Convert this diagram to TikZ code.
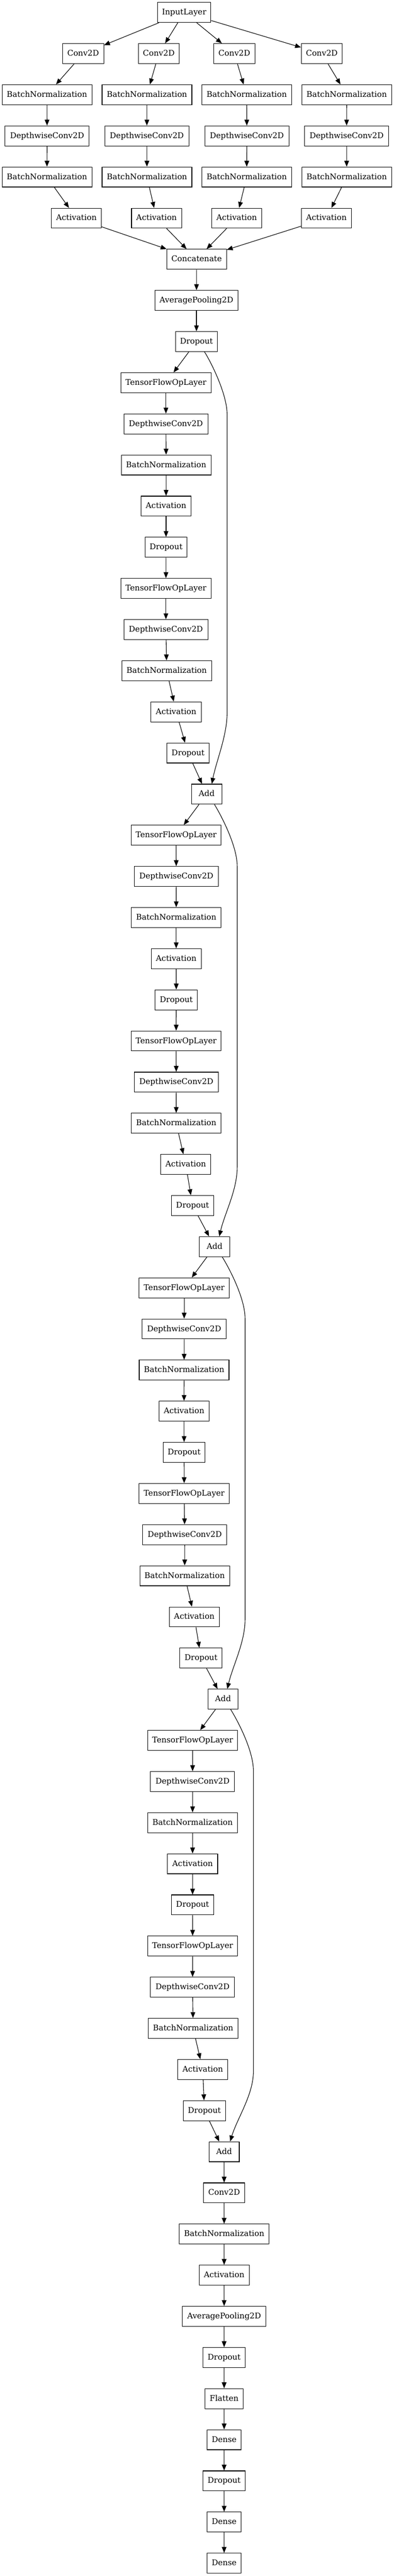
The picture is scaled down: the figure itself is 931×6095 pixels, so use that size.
\documentclass[tikz,border=0pt]{standalone}
\usepackage{fontspec}
\setmainfont{DejaVu Serif}
\usetikzlibrary{arrows.meta,calc}
\newcommand\rnk[1]{29.5+97.34*#1}
\begin{document}
\begin{tikzpicture}[x=0.75pt,y=-0.75pt,
  lay/.style={draw,line width=1pt,inner sep=0pt,minimum height=35.5pt,text height=11pt,text depth=2.75pt,font=\fontsize{14pt}{16pt}\selectfont},
  tf/.style={lay,minimum width=159.7pt},
  dw/.style={lay,minimum width=149pt},
  bn/.style={lay,minimum width=159.1pt},
  ac/.style={lay,minimum width=88.8pt},
  dr/.style={lay,minimum width=74.8pt},
  ad/.style={lay,minimum width=53.7pt},
  cv/.style={lay,minimum width=72.8pt},
  inl/.style={lay,minimum width=94.8pt},
  ct/.style={lay,minimum width=106pt},
  ap/.style={lay,minimum width=147.6pt},
  fl/.style={lay,minimum width=67.8pt},
  dn/.style={lay,minimum width=60.8pt},
  edge/.style={line width=1pt,-{Triangle[length=10.5pt,width=8.25pt]}}]
\useasboundingbox (0,0) rectangle (931,6095);
\fill[white] (0,0) rectangle (931,6095);
% top section
\node[inl] (in) at (435.3,\rnk{0}) {InputLayer};
\node[cv] (c1) at (196.6,\rnk{1}) {Conv2D};
\node[cv] (c2) at (375.3,\rnk{1}) {Conv2D};
\node[cv] (c3) at (554.0,\rnk{1}) {Conv2D};
\node[cv] (c4) at (760.7,\rnk{1}) {Conv2D};
\node[bn] (b1) at (111.0,\rnk{2}) {BatchNormalization};
\node[bn] (b2) at (347.4,\rnk{2}) {BatchNormalization};
\node[bn] (b3) at (583.1,\rnk{2}) {BatchNormalization};
\node[bn] (b4) at (819.5,\rnk{2}) {BatchNormalization};
\node[dw] (w1) at (111.3,\rnk{3}) {DepthwiseConv2D};
\node[dw] (w2) at (347.1,\rnk{3}) {DepthwiseConv2D};
\node[dw] (w3) at (583.5,\rnk{3}) {DepthwiseConv2D};
\node[dw] (w4) at (819.2,\rnk{3}) {DepthwiseConv2D};
\node[bn] (n1) at (111.0,\rnk{4}) {BatchNormalization};
\node[bn] (n2) at (347.4,\rnk{4}) {BatchNormalization};
\node[bn] (n3) at (583.1,\rnk{4}) {BatchNormalization};
\node[bn] (n4) at (819.5,\rnk{4}) {BatchNormalization};
\node[ac] (a1) at (180.5,\rnk{5}) {Activation};
\node[ac] (a2) at (370.0,\rnk{5}) {Activation};
\node[ac] (a3) at (559.4,\rnk{5}) {Activation};
\node[ac] (a4) at (771.4,\rnk{5}) {Activation};
\node[ct] (cat) at (464.7,\rnk{6}) {Concatenate};
\node[ap] (ap0) at (464.4,\rnk{7}) {AveragePooling2D};
\node[dr] (d0) at (464.4,\rnk{8}) {Dropout};
% block 1
\node[tf] (p1t) at (392.2,\rnk{9}) {TensorFlowOpLayer};
\node[dw] (p1w) at (392.2,\rnk{10}) {DepthwiseConv2D};
\node[bn] (p1b) at (392.8,\rnk{11}) {BatchNormalization};
\node[ac] (p1a) at (392.5,\rnk{12}) {Activation};
\node[dr] (p1d) at (392.5,\rnk{13}) {Dropout};
\node[tf] (q1t) at (392.2,\rnk{14}) {TensorFlowOpLayer};
\node[dw] (q1w) at (392.2,\rnk{15}) {DepthwiseConv2D};
\node[bn] (q1b) at (394.0,\rnk{16}) {BatchNormalization};
\node[ac] (q1a) at (416.3,\rnk{17}) {Activation};
\node[dr] (q1d) at (444.5,\rnk{18}) {Dropout};
\node[ad] (add1) at (488.5,\rnk{19}) {Add};
% block 2
\node[tf] (p2t) at (416.3,\rnk{20}) {TensorFlowOpLayer};
\node[dw] (p2w) at (416.7,\rnk{21}) {DepthwiseConv2D};
\node[bn] (p2b) at (416.5,\rnk{22}) {BatchNormalization};
\node[ac] (p2a) at (416.5,\rnk{23}) {Activation};
\node[dr] (p2d) at (416.7,\rnk{24}) {Dropout};
\node[tf] (q2t) at (416.3,\rnk{25}) {TensorFlowOpLayer};
\node[dw] (q2w) at (416.7,\rnk{26}) {DepthwiseConv2D};
\node[bn] (q2b) at (416.5,\rnk{27}) {BatchNormalization};
\node[ac] (q2a) at (439.0,\rnk{28}) {Activation};
\node[dr] (q2d) at (455.2,\rnk{29}) {Dropout};
\node[ad] (add2) at (507.2,\rnk{30}) {Add};
% block 3
\node[tf] (p3t) at (435.3,\rnk{31}) {TensorFlowOpLayer};
\node[dw] (p3w) at (435.3,\rnk{32}) {DepthwiseConv2D};
\node[bn] (p3b) at (435.2,\rnk{33}) {BatchNormalization};
\node[ac] (p3a) at (435.0,\rnk{34}) {Activation};
\node[dr] (p3d) at (435.2,\rnk{35}) {Dropout};
\node[tf] (q3t) at (435.3,\rnk{36}) {TensorFlowOpLayer};
\node[dw] (q3w) at (436.7,\rnk{37}) {DepthwiseConv2D};
\node[bn] (q3b) at (436.5,\rnk{38}) {BatchNormalization};
\node[ac] (q3a) at (459.3,\rnk{39}) {Activation};
\node[dr] (q3d) at (475.2,\rnk{40}) {Dropout};
\node[ad] (add3) at (527.2,\rnk{41}) {Add};
% block 4
\node[tf] (p4t) at (455.3,\rnk{42}) {TensorFlowOpLayer};
\node[dw] (p4w) at (455.2,\rnk{43}) {DepthwiseConv2D};
\node[bn] (p4b) at (455.2,\rnk{44}) {BatchNormalization};
\node[ac] (p4a) at (455.2,\rnk{45}) {Activation};
\node[dr] (p4d) at (455.2,\rnk{46}) {Dropout};
\node[tf] (q4t) at (455.3,\rnk{47}) {TensorFlowOpLayer};
\node[dw] (q4w) at (455.2,\rnk{48}) {DepthwiseConv2D};
\node[bn] (q4b) at (456.5,\rnk{49}) {BatchNormalization};
\node[ac] (q4a) at (479.2,\rnk{50}) {Activation};
\node[dr] (q4d) at (483.2,\rnk{51}) {Dropout};
\node[ad] (add4) at (529.8,\rnk{52}) {Add};
% tail
\node[cv] (tc) at (529.8,\rnk{53}) {Conv2D};
\node[bn] (tb) at (529.8,\rnk{54}) {BatchNormalization};
\node[ac] (ta) at (529.8,\rnk{55}) {Activation};
\node[ap] (tp) at (529.8,\rnk{56}) {AveragePooling2D};
\node[dr] (td) at (529.8,\rnk{57}) {Dropout};
\node[fl] (tf) at (529.8,\rnk{58}) {Flatten};
\node[dn] (e1) at (529.8,\rnk{59}) {Dense};
\node[dr] (td2) at (529.8,\rnk{60}) {Dropout};
\node[dn] (e2) at (529.8,\rnk{61}) {Dense};
\node[dn] (e3) at (529.8,\rnk{62}) {Dense};
% edges
\foreach \u/\v in {in/c1,in/c2,in/c3,in/c4,
  c1/b1,c2/b2,c3/b3,c4/b4,b1/w1,b2/w2,b3/w3,b4/w4,
  w1/n1,w2/n2,w3/n3,w4/n4,n1/a1,n2/a2,n3/a3,n4/a4,
  a1/cat,a2/cat,a3/cat,a4/cat,cat/ap0,ap0/d0,
  d0/p1t,p1t/p1w,p1w/p1b,p1b/p1a,p1a/p1d,p1d/q1t,q1t/q1w,q1w/q1b,q1b/q1a,q1a/q1d,q1d/add1,
  add1/p2t,p2t/p2w,p2w/p2b,p2b/p2a,p2a/p2d,p2d/q2t,q2t/q2w,q2w/q2b,q2b/q2a,q2a/q2d,q2d/add2,
  add2/p3t,p3t/p3w,p3w/p3b,p3b/p3a,p3a/p3d,p3d/q3t,q3t/q3w,q3w/q3b,q3b/q3a,q3a/q3d,q3d/add3,
  add3/p4t,p4t/p4w,p4w/p4b,p4b/p4a,p4a/p4d,p4d/q4t,q4t/q4w,q4w/q4b,q4b/q4a,q4a/q4d,q4d/add4,
  add4/tc,tc/tb,tb/ta,ta/tp,tp/td,td/tf,tf/e1,e1/td2,td2/e2,e2/e3}
  \draw[edge] (\u) -- (\v);
% skip connections
\draw[edge] ($(d0.south)+(19,0)$) .. controls ($(d0.south)+(33,22)$) and (536.8,931) .. (536.8,981)
  -- (536.8,1686) .. controls (536.8,1741) and ($(add1.north)+(23,-55)$) .. ($(add1.north)+(12.2,0)$);
\draw[edge] ($(add1.south)+(18.3,0)$) .. controls ($(add1.south)+(32,22)$) and (560.7,2000) .. (560.7,2050)
  -- (560.7,2761) .. controls (560.7,2816) and ($(add2.north)+(24,-55)$) .. ($(add2.north)+(11.1,0)$);
\draw[edge] ($(add2.south)+(18.1,0)$) .. controls ($(add2.south)+(32,22)$) and (579.3,3070) .. (579.3,3120)
  -- (579.3,3831) .. controls (579.3,3886) and ($(add3.north)+(23,-55)$) .. ($(add3.north)+(10.1,0)$);
\draw[edge] ($(add3.south)+(18.1,0)$) .. controls ($(add3.south)+(32,22)$) and (599,4140) .. (599,4190)
  -- (599,4901) .. controls (599,4956) and ($(add4.north)+(31,-55)$) .. ($(add4.north)+(14.2,0)$);
\end{tikzpicture}
\end{document}
